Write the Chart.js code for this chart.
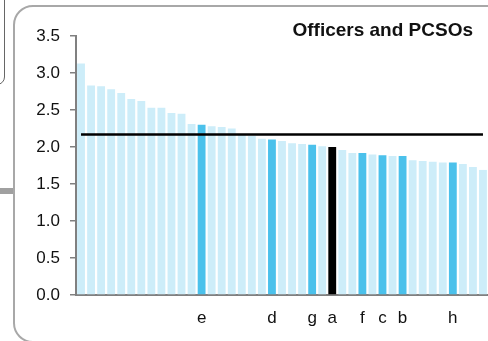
<!DOCTYPE html>
<html>
<head>
<meta charset="utf-8">
<script src="https://cdn.jsdelivr.net/npm/chart.js@4"></script>
<style>
  html, body { margin: 0; padding: 0; background: #fff; overflow: hidden; }
  body { width: 488px; height: 341px; position: relative; }
  .frame { position: absolute; left: 13px; top: 5px; width: 520px; height: 334px;
           border: 2px solid #a8a8a8; border-radius: 20px; }
  .oldbox { position: absolute; left: -30px; top: -10px; width: 33px; height: 93px;
            border: 1px solid #666; border-radius: 0 0 8px 0; }
  .stub { position: absolute; left: 0; top: 188px; width: 13px; height: 6px; background: #a0a0a0; }
  #myChart { position: absolute; left: 0; top: 0; z-index: 1; }
</style>
</head>
<body>
<div class="oldbox"></div>
<div class="stub"></div>
<div class="frame"></div>
<canvas id="myChart" width="488" height="341"></canvas>
<script>
// one bar per force, sorted; only the compared forces carry a letter
var labels = ['', '', '', '', '', '', '', '', '', '', '', '', 'e', '', '', '', '', '', '', 'd',
    '', '', '', 'g', '', 'a', '', '', 'f', '', 'c', '', 'b', '', '', '', '', 'h', '', '', ''];
var values = [3.13, 2.83, 2.82, 2.78, 2.73, 2.65, 2.62, 2.53, 2.53, 2.46, 2.45, 2.31, 2.30, 2.28,
    2.27, 2.25, 2.17, 2.15, 2.11, 2.10, 2.08, 2.05, 2.04, 2.03, 2.01, 2.00, 1.96, 1.92, 1.92,
    1.90, 1.89, 1.88, 1.88, 1.82, 1.81, 1.80, 1.79, 1.79, 1.77, 1.73, 1.69];
var average = 2.17;
var yTicks = [0, 0.5, 1.0, 1.5, 2.0, 2.5, 3.0, 3.5];
var chartTitle = 'Officers and PCSOs';

var barColors = labels.map(function (l) {
    if (l === 'a') return '#000000';
    if (l !== '') return '#4bc1eb';
    return '#cdedf9';
});

var titlePlugin = {
    id: 'cornerTitle',
    afterDraw: function (chart) {
        var c = chart.ctx;
        c.save();
        c.font = 'bold 19px "Liberation Sans", Arial, sans-serif';
        c.fillStyle = '#111';
        c.textAlign = 'right';
        c.textBaseline = 'alphabetic';
        c.fillText(chartTitle, 473, 36);
        c.restore();
    }
};

var ctx = document.getElementById('myChart').getContext('2d');
var myChart = new Chart(ctx, {
    type: 'bar',
    data: {
        labels: labels,
        datasets: [{
            type: 'line',
            data: labels.map(function () { return average; }),
            borderColor: '#000',
            borderWidth: 2.5,
            pointRadius: 0,
            fill: false,
            order: 0
        },
        {
            data: values,
            backgroundColor: barColors,
            barPercentage: 0.78,
            categoryPercentage: 1.0,
            order: 1
        }]
    },
    options: {
        responsive: false,
        animation: false,
        layout: { padding: { top: 36, left: 0, right: 0, bottom: 0 } },
        plugins: {
            legend: { display: false },
            tooltip: { enabled: false }
        },
        scales: {
            x: {
                grid: { display: false },
                border: { display: true, color: '#808080', width: 2 },
                ticks: {
                    autoSkip: false,
                    maxRotation: 0,
                    padding: 5,
                    color: '#111',
                    font: { size: 17, family: '"Liberation Sans", Arial, sans-serif' }
                },
                afterFit: function (scale) { scale.height = 46; }
            },
            y: {
                min: 0,
                max: 3.5,
                afterBuildTicks: function (scale) {
                    scale.ticks = yTicks.map(function (v) { return { value: v }; });
                },
                grid: { drawOnChartArea: false, drawTicks: true, tickLength: 6, color: '#808080', lineWidth: 1.5 },
                border: { display: true, color: '#808080', width: 2 },
                ticks: {
                    padding: 10,
                    color: '#111',
                    font: { size: 17, family: '"Liberation Sans", Arial, sans-serif' },
                    callback: function (v) { return Number(v).toFixed(1); }
                },
                afterFit: function (scale) { scale.width = 76; }
            }
        }
    },
    plugins: [titlePlugin]
});
</script>
</body>
</html>
